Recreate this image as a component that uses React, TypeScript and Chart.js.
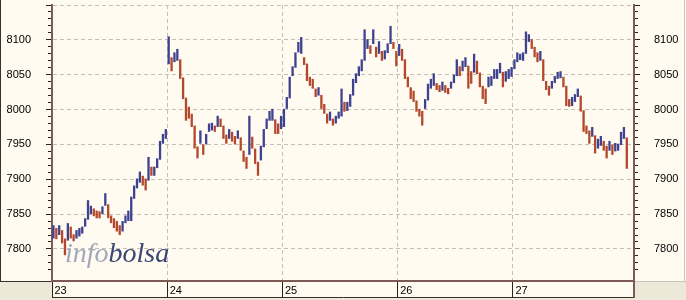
import React, { useEffect, useRef } from 'react';
import { Chart, registerables } from 'chart.js';

Chart.register(...registerables);

// Day labels on the x axis (one trading day each)
const dayLabels = ['23', '24', '25', '26', '27'];
// Labelled price levels on both y axes
const yTickLabels = [7800, 7850, 7900, 7950, 8000, 8050, 8100];

// Intraday bars: [low, high]
const day23: [number, number][] = [
  [7815, 7834], [7814, 7830], [7820, 7834], [7808, 7827], [7791, 7815], [7812, 7837], [7815, 7832], [7811, 7821], [7815, 7827], [7818, 7830],
  [7822, 7832], [7832, 7844], [7842, 7870], [7850, 7862], [7847, 7858], [7844, 7855], [7844, 7854], [7850, 7861], [7862, 7880], [7844, 7864],
  [7837, 7848], [7830, 7844], [7825, 7840], [7820, 7834], [7825, 7840], [7837, 7848], [7840, 7855], [7840, 7875], [7872, 7891], [7887, 7901],
  [7895, 7911], [7891, 7905], [7884, 7901], [7898, 7932], [7905, 7918], [7905, 7918], [7916, 7930], [7928, 7955], [7951, 7965], [7958, 7972],
];
const day24: [number, number][] = [
  [8065, 8105], [8055, 8075], [8068, 8082], [8070, 8087], [8044, 8072], [8015, 8046], [7984, 8017], [7987, 8004], [7975, 7994], [7944, 7977],
  [7930, 7947], [7951, 7970], [7935, 7950], [7950, 7965], [7968, 7980], [7970, 7981], [7968, 7977], [7975, 7991], [7975, 7987], [7958, 7977],
  [7951, 7964], [7958, 7972], [7954, 7968], [7950, 7962], [7958, 7970], [7941, 7960], [7925, 7941], [7915, 7932], [7935, 7991], [7944, 7961],
  [7922, 7944], [7905, 7925], [7927, 7948], [7946, 7972], [7972, 7987], [7984, 7998], [7984, 8001], [7965, 7986], [7965, 7980], [7972, 7991],
];
const day25: [number, number][] = [
  [7975, 8001], [8001, 8018], [8016, 8047], [8048, 8062], [8060, 8082], [8082, 8097], [8080, 8104], [8064, 8075], [8041, 8066], [8034, 8047],
  [8030, 8044], [8018, 8030], [8020, 8032], [8001, 8021], [7994, 8008], [7980, 7994], [7984, 7997], [7977, 7987], [7980, 7991], [7987, 7997],
  [7990, 8030], [7997, 8011], [7998, 8011], [8004, 8022], [8020, 8044], [8038, 8052], [8048, 8062], [8055, 8072], [8070, 8115], [8087, 8101],
  [8080, 8092], [8094, 8115], [8075, 8090], [8080, 8098], [8070, 8084], [8072, 8085], [8081, 8095], [8094, 8120], [8087, 8097], [8062, 8084],
];
const day26: [number, number][] = [
  [8077, 8094], [8070, 8087], [8044, 8072], [8032, 8047], [8015, 8032], [8011, 8027], [7997, 8013], [7990, 8001], [7977, 7998], [8001, 8015],
  [8013, 8037], [8030, 8044], [8034, 8052], [8028, 8038], [8025, 8035], [8027, 8040], [8024, 8035], [8022, 8031], [8030, 8040], [8038, 8050],
  [8048, 8072], [8048, 8062], [8055, 8070], [8061, 8075], [8030, 8063], [8037, 8055], [8053, 8080], [8051, 8070], [8032, 8053], [8015, 8034],
  [8008, 8030], [8032, 8047], [8034, 8048], [8044, 8058], [8044, 8058], [8052, 8067], [8032, 8054], [8040, 8055], [8044, 8058], [8047, 8061],
];
const day27: [number, number][] = [
  [8058, 8072], [8068, 8082], [8071, 8080], [8070, 8082], [8080, 8112], [8097, 8108], [8087, 8101], [8075, 8090], [8068, 8082], [8070, 8084],
  [8041, 8072], [8028, 8041], [8020, 8034], [8030, 8041], [8038, 8048], [8044, 8054], [8045, 8055], [8032, 8047], [8005, 8034], [8004, 8015],
  [8005, 8018], [8011, 8022], [8018, 8030], [7997, 8020], [7968, 7999], [7965, 7977], [7951, 7970], [7961, 7975], [7937, 7963], [7944, 7958],
  [7948, 7962], [7941, 7955], [7930, 7948], [7941, 7955], [7935, 7950], [7940, 7952], [7941, 7951], [7949, 7968], [7958, 7975], [7915, 7960],
];

const days = [day23, day24, day25, day26, day27];
const BARS_PER_DAY = 40;
const TRAILING_SLOTS = 2;
const Y_MIN = 7754;
const Y_MAX = 8150;

const CREAM = '#FFFBF0';
const PANEL_GREY = '#ECE9D8';
const BROWN = '#7D5A55';
const GRID = '#C4C0B8';
const BLUE = '#3E4290';
const RED = '#B4482C';
const FONT = { family: '"Liberation Sans", Arial, sans-serif', size: 11 };

const isDayStart = (i: any) => typeof i === 'number' && i % BARS_PER_DAY === 0 && i < days.length * BARS_PER_DAY;

const panelPlugin = {
  id: 'panel',
  beforeDraw(chart: any) {
    const { ctx, chartArea: a, width, height } = chart;
    const xs = chart.scales.x;
    const bandBottom = xs.bottom - 2;
    ctx.save();
    ctx.fillStyle = PANEL_GREY;
    ctx.fillRect(0, 0, width, height);
    ctx.fillStyle = CREAM;
    ctx.fillRect(0, 0, width, a.bottom);
    ctx.fillRect(a.left, a.bottom, a.right - a.left, bandBottom - a.bottom);
    ctx.strokeStyle = '#3E2E2C';
    ctx.lineWidth = 1;
    ctx.beginPath();
    ctx.moveTo(0.5, 0);
    ctx.lineTo(0.5, a.bottom + 1);
    ctx.moveTo(0, a.bottom + 0.5);
    ctx.lineTo(a.left, a.bottom + 0.5);
    ctx.moveTo(a.left, bandBottom - 0.5);
    ctx.lineTo(a.right + 1, bandBottom - 0.5);
    ctx.stroke();
    ctx.strokeStyle = BROWN;
    ctx.lineWidth = 2;
    ctx.beginPath();
    ctx.moveTo(a.right, a.bottom);
    ctx.lineTo(a.right, bandBottom);
    ctx.stroke();
    ctx.strokeStyle = '#C9C5B8';
    ctx.lineWidth = 1;
    ctx.beginPath();
    ctx.moveTo(a.right, a.bottom + 0.5);
    ctx.lineTo(width, a.bottom + 0.5);
    ctx.moveTo(width - 1.5, 0);
    ctx.lineTo(width - 1.5, a.bottom);
    ctx.stroke();
    ctx.restore();
  },
  beforeDatasetsDraw(chart: any) {
    const { ctx, chartArea: a } = chart;
    ctx.save();
    ctx.font = 'italic 28px "Liberation Serif", "Times New Roman", serif';
    ctx.textBaseline = 'alphabetic';
    const x = a.left + 13;
    const y = a.bottom - 19;
    ctx.fillStyle = '#A2A8BC';
    ctx.fillText('info', x, y);
    const w = ctx.measureText('info').width;
    ctx.fillStyle = '#3A4676';
    ctx.fillText('bolsa', x + w, y);
    ctx.restore();
  },
};

export default function App() {
  const ref = useRef<HTMLCanvasElement | null>(null);

  useEffect(() => {
    document.body.style.margin = '0';
    const canvas = ref.current;
    if (!canvas) return;

    const ranges: ([number, number] | null)[] = [];
    const labels: string[] = [];
    days.forEach((d, k) => {
      d.forEach((r) => {
        ranges.push(r);
        labels.push(dayLabels[k]);
      });
    });
    for (let i = 0; i < TRAILING_SLOTS; i++) {
      ranges.push(null);
      labels.push('');
    }
    const colors = ranges.map((r, i) => {
      if (!r) return BLUE;
      const prev = i > 0 ? ranges[i - 1] : null;
      if (!prev) return BLUE;
      return (r[0] + r[1]) / 2 >= (prev[0] + prev[1]) / 2 ? BLUE : RED;
    });

    const yLabel = (v: any) => (yTickLabels.includes(Number(v)) ? String(v) : '');
    const keepTens = (s: any) => {
      s.ticks = s.ticks.filter((t: any) => t.value % 10 === 0);
    };
    const isMajor = (c: any) => c.tick && c.tick.value % 50 === 0;
    const fitY = (s: any) => {
      s.width = 52;
      s.paddingTop = 0;
      s.paddingBottom = 0;
    };

    const chart = new Chart(canvas, {
      type: 'bar',
      data: {
        labels,
        datasets: [
          {
            data: ranges as any,
            backgroundColor: colors,
            borderWidth: 0,
            barPercentage: 0.8,
            categoryPercentage: 1,
            yAxisID: 'y',
          },
        ],
      },
      options: {
        responsive: false,
        animation: false,
        devicePixelRatio: 1,
        layout: { padding: { top: 5, left: 0, right: 0, bottom: 0 } },
        plugins: { legend: { display: false }, tooltip: { enabled: false } },
        scales: {
          x: {
            type: 'category',
            offset: true,
            grid: {
              offset: true,
              color: (c: any) => (isDayStart(c.index) ? GRID : 'transparent'),
              lineWidth: 1,
              drawTicks: true,
              tickLength: 17,
              tickWidth: 1,
              tickColor: (c: any) => (isDayStart(c.index) ? '#2A2020' : 'transparent'),
            },
            border: { display: true, color: BROWN, width: 2, dash: [4, 3] },
            ticks: {
              autoSkip: false,
              maxRotation: 0,
              minRotation: 0,
              align: 'start',
              labelOffset: 1,
              padding: -14,
              color: '#000',
              font: FONT,
              callback: (_v: any, i: number) => (isDayStart(i) ? dayLabels[i / BARS_PER_DAY] : ''),
            },
            afterFit: (s: any) => {
              s.height = 19;
              s.paddingLeft = 0;
              s.paddingRight = 0;
            },
          } as any,
          y: {
            position: 'left',
            min: Y_MIN,
            max: Y_MAX,
            afterBuildTicks: keepTens,
            ticks: { stepSize: 10, autoSkip: false, padding: 15, color: '#000', font: FONT, callback: yLabel },
            grid: {
              color: (c: any) => (isMajor(c) ? GRID : 'transparent'),
              tickLength: 6,
              tickWidth: 1,
              tickColor: '#2A2020',
              tickBorderDash: (c: any) => (isMajor(c) ? [] : [0, 2, 3, 20]),
            },
            border: { display: true, color: BROWN, width: 2, dash: [4, 3] },
            afterFit: fitY,
          } as any,
          yRight: {
            position: 'right',
            min: Y_MIN,
            max: Y_MAX,
            afterBuildTicks: keepTens,
            ticks: { stepSize: 10, autoSkip: false, padding: 14, color: '#000', font: FONT, callback: yLabel },
            grid: {
              drawOnChartArea: false,
              tickLength: 6,
              tickWidth: 1,
              tickColor: '#2A2020',
              tickBorderDash: (c: any) => (isMajor(c) ? [] : [3, 20]),
            },
            border: { display: true, color: BROWN, width: 2 },
            afterFit: fitY,
          } as any,
        },
      },
      plugins: [panelPlugin],
    });

    return () => chart.destroy();
  }, []);

  return (
    <div style={{ width: 686, height: 300 }}>
      <canvas ref={ref} width={686} height={300} style={{ display: 'block' }} />
    </div>
  );
}
